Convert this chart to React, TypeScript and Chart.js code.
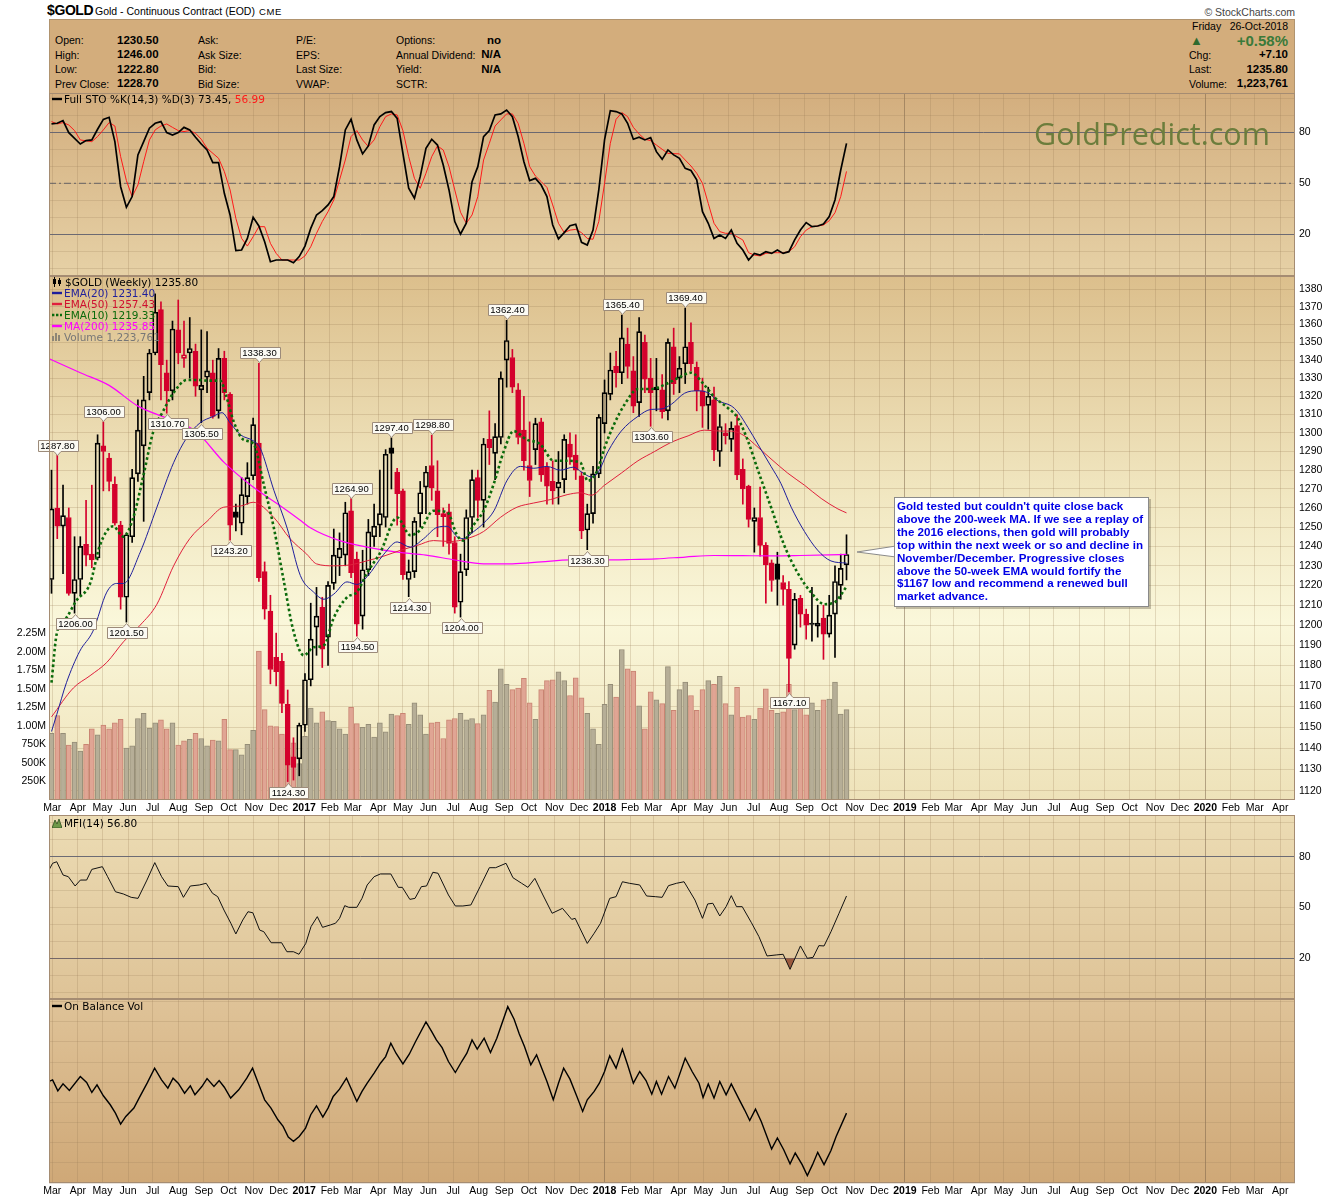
import React, { useEffect, useRef } from "react";
import { Chart, registerables } from "chart.js";

Chart.register(...registerables);

// ---------------- data (weekly bars, index 0 = week of 29-Feb-2016) ----------------
const OPENS = [1223,1260,1250.5,1255,1216,1223,1241,1236,1234,1293,
 1286.5,1272.5,1251,1214,1245,1278,1293,1322,1344,1368.5,
 1333,1323,1357,1341,1344,1345,1323.5,1330.5,1333,1312,
 1341,1321,1258,1252,1266,1277,1294.5,1227,1207,1184,
 1182,1161,1136,1135,1151,1173,1199,1209,1194,1221,
 1234,1235.5,1258.5,1233.5,1204.5,1228,1245,1251,1255,1292,
 1279,1269,1223,1227,1257,1271,1282.5,1269,1257,1258,
 1242,1211.5,1228,1255,1276,1264,1296.5,1289,1297.5,1340,
 1341.5,1323.5,1301.5,1282.5,1291,1306,1281.5,1274,1270.5,1275,
 1294,1288,1277,1248.5,1257,1278,1305,1321,1336.5,1333,
 1349,1334,1316.5,1350,1330,1325,1323.5,1312,1347.5,1330,
 1338,1350,1336,1323,1315,1318,1290,1300,1296.5,1304,
 1280.5,1271.5,1253,1255,1240.5,1231.5,1231,1221.5,1218,1190,
 1213.5,1205.5,1201,1199.5,1203.5,1195.5,1205.5,1220,1230.5];
const HIGHS = [1280,1288,1272,1260,1245,1245,1264,1272,1299,1306,
 1289,1276.5,1253,1247,1280.5,1318,1331,1346,1377.5,1373,
 1340,1362,1374,1362,1364,1349,1357,1356,1340,1346.5,
 1345,1322,1262,1276,1284,1308,1338.3,1232,1215,1196,
 1186,1168,1145,1152,1176,1211,1219,1214,1222,1249,
 1247,1263,1264.9,1237,1238,1254,1262,1280,1291,1297.4,
 1281,1270,1233,1255,1274,1282,1298.8,1285,1260,1262,
 1245,1236,1259,1280,1280,1297,1312,1305,1333.5,1362.4,
 1346,1327,1320,1306,1308,1308,1284,1285,1290,1299,
 1300,1299,1279,1262,1282,1310,1329,1344,1345,1365.4,
 1358,1342,1364,1354,1341,1341,1332,1352,1358,1342,
 1369.4,1361,1339,1330,1325,1325,1310,1305,1306,1310,
 1286,1272,1260,1271,1242,1233,1237,1225,1222,1216,
 1215,1208,1219,1210,1210,1215,1230,1236,1246];
const LOWS = [1216,1244,1226,1215,1206,1215,1230,1229,1233,1269,
 1269,1251,1208,1201.5,1242,1274,1253,1318,1343,1318,
 1310.7,1318,1338,1336,1330,1320,1305.5,1322,1308,1308,
 1318,1243.2,1248,1246,1262,1275,1222,1203,1171,1170,
 1157,1124.3,1125,1127,1148,1170,1185,1179,1180,1218,
 1225,1230,1224,1194.5,1198,1225,1240,1245,1250,1270,
 1251,1223,1214.3,1224,1250,1257,1264,1245,1240,1236,
 1206,1204,1225,1247,1255,1250,1283,1275,1294,1325,
 1322,1294,1280,1266,1283,1274,1262,1262,1262,1268,
 1283,1275,1244,1238.3,1252,1276,1300,1318,1325,1327,
 1330,1311,1309,1322,1303.6,1312,1308,1307,1321,1322,
 1327,1334,1312,1303,1302,1285,1282,1294,1290,1275,
 1262,1250,1237,1235,1211,1217,1210,1210,1167.1,1188,
 1199,1193,1192,1194,1183,1194,1184,1213,1222.8];
const CLOSES = [1259.5,1250.5,1256,1216,1223,1240,1235.5,1233,1294.5,1290,
 1274,1252,1214,1246,1276,1301.5,1318,1344,1367,1337.5,
 1323,1357.5,1344,1343,1346.5,1325.5,1326,1334,1309,1341,
 1322,1251,1255,1267,1276,1304.5,1224,1208,1178,1177,
 1161.5,1132,1131,1151,1173,1193,1204.5,1188,1220,1235.5,
 1239,1257.5,1226.5,1200.5,1228,1247.5,1250.5,1257,1288.5,1289,
 1267.5,1225.5,1227,1253,1268,1279,1270.5,1256.5,1255.5,1241.5,
 1209,1227,1255,1275,1264,1294,1292,1298,1330,1351,
 1325,1297.5,1285,1274.5,1305,1277.5,1271.5,1269,1273.5,1296.5,
 1287,1280,1248,1257,1278,1308.5,1322,1334.5,1333,1352.5,
 1336.5,1314.5,1356,1329.5,1322,1323.5,1311.5,1350,1327,1335.5,
 1347.5,1338,1323,1314.5,1320,1291,1303.5,1298.5,1302.5,1277.5,
 1270,1254,1255,1240.5,1230.5,1222.5,1223,1218,1183.5,1213,
 1205.5,1200,1200.3,1201,1195.5,1205,1222,1228.7,1235.8];
// weekly volume, millions of contracts
const VOLUMES_M = [0.90,1.14,0.90,0.74,0.78,0.66,0.75,0.96,0.88,1.01,
 0.96,1.04,1.09,0.70,0.73,1.10,1.17,0.97,1.04,1.08,
 0.96,1.04,0.74,0.80,0.82,0.90,0.83,0.73,0.81,0.80,
 1.09,0.68,0.68,0.61,0.75,0.94,2.01,1.22,1.00,0.99,
 0.89,0.61,0.77,0.49,0.86,1.24,1.04,1.19,1.07,1.06,
 0.96,0.89,1.25,1.03,0.98,1.02,0.85,1.04,0.92,1.16,
 1.14,1.17,1.02,1.31,1.15,0.89,1.04,1.05,0.83,1.08,
 1.10,1.17,1.08,1.10,1.03,1.15,1.48,1.32,1.77,1.56,
 1.49,1.51,1.64,1.31,1.09,1.49,1.61,1.62,1.73,1.61,
 1.41,1.65,1.38,1.17,0.96,0.75,1.29,1.56,1.39,2.03,
 1.77,1.74,1.27,0.96,1.46,1.35,1.30,1.80,1.21,1.49,
 1.59,1.41,1.21,1.49,1.61,1.56,1.67,1.30,1.15,1.52,
 1.12,1.14,1.09,1.24,1.50,1.21,1.17,1.19,1.56,1.22,
 1.25,1.15,1.31,1.21,1.35,1.36,1.59,1.16,1.22];

// overlays: [week, value]
const EMA20 = [[0,1148],[0.9,1156],[2.6,1171.6],[4.9,1187],[7.2,1197],[9.6,1216.6],[11.3,1221],[12.5,1221],[15.4,1237],[18.3,1260.4],[21.2,1284],[23.5,1297.5],[25.8,1305.5],[28.1,1309],[29.6,1311],[31,1305.5],[32.8,1299],[35.1,1295.6],[36.2,1292],[38.6,1269.3],[40.9,1249.5],[43.2,1225],[45.5,1216.6],[47.3,1213],[49,1215.6],[51.3,1221.8],[53,1220.5],[54.8,1224.5],[57.7,1236],[60,1242.3],[62.3,1239.6],[64.6,1244],[66.9,1249.8],[68.7,1250.4],[70.4,1245],[71.5,1244],[73.3,1247.7],[75,1252],[76.8,1258.5],[79.1,1274.7],[81.4,1282],[83.7,1281],[86,1282],[88.3,1280],[90.6,1281.6],[92,1279],[93.7,1276.4],[94.8,1278.4],[96.6,1290],[98.9,1301],[101.8,1309],[104.1,1312.8],[105.8,1313],[107.6,1315.6],[109.9,1321.7],[112.2,1323],[113.9,1322],[115.7,1317.5],[118,1314.7],[119.1,1311.5],[120.9,1302.9],[122.6,1294],[124.9,1282],[126.6,1273],[128.4,1260.4],[130.7,1247.7],[133,1238],[135.3,1232.5],[138,1231.4]];
const EMA50 = [[0,1155],[3.8,1169],[6.7,1175],[9.6,1181.5],[12.5,1191.7],[15.4,1200],[18.3,1210.5],[21.2,1230],[24,1244],[27,1253],[29.9,1260.4],[32.8,1261],[35,1263],[38.6,1255],[41.4,1244],[44.3,1236],[46,1231],[49,1230],[51.9,1230.5],[54.8,1232.6],[57.7,1235],[60.6,1238],[63.5,1240.5],[66.3,1243],[69.2,1242.5],[72.1,1244],[75,1247.7],[77.9,1255],[80.8,1260.4],[83.7,1262.6],[86.6,1264.4],[89.5,1267],[91.8,1268],[93.7,1266.7],[96,1272],[98.9,1278.4],[101.8,1285],[104.7,1290],[107.6,1295],[110.5,1298.4],[113.3,1301.5],[116.2,1301],[118,1301],[120.3,1298.4],[122,1294],[124.9,1286],[127.8,1278.4],[130.7,1272],[133.6,1265],[136.5,1259.5],[138,1257.43]];
const EMA10 = [[0,1171.6],[0.9,1195.6],[2.6,1203.7],[4.3,1212.2],[6.7,1221],[8.4,1240.5],[10.7,1250.4],[12.5,1245],[14.2,1255],[15.9,1276.4],[17.7,1301],[19.4,1312],[21.2,1322],[23.5,1329],[25.2,1329],[27,1328.6],[29.3,1328.6],[30.4,1319.4],[31.6,1306.4],[33.3,1296.4],[35.1,1294],[36.8,1273],[38.6,1249.5],[40.3,1222.6],[42,1197],[43.8,1185],[45.5,1189],[47.3,1190],[49,1203.7],[51.3,1214],[53,1216.6],[54.8,1226.5],[57.1,1237],[60,1255],[62.3,1245.8],[64,1248.5],[66.3,1258.5],[68.7,1257.7],[70.4,1245.8],[71.5,1243],[73.3,1251.2],[75,1258.5],[76.8,1273],[78.5,1290],[80.2,1301],[82.5,1296.4],[84.8,1294],[87.2,1285],[89.5,1285],[91.8,1284],[93.1,1274.3],[94.8,1280.2],[96,1292],[97.7,1305],[99.5,1315.6],[101.8,1324],[104.1,1324],[106.4,1326.3],[108.7,1330],[111,1333],[113.3,1326.3],[115.1,1319.4],[117.4,1313.6],[119.1,1308.2],[120.9,1295.6],[122.6,1280.2],[124.9,1260.4],[127.2,1240.5],[129.5,1226.5],[131.8,1216.6],[134.2,1210.5],[135.9,1211.4],[138,1219.33]];
const MA200 = [[-0.5,1341],[5,1333],[10,1326],[15,1314.6],[20,1308],[25,1301],[30,1284],[35,1271],[40,1260.5],[43,1254],[45,1249.5],[50,1243],[55,1239.5],[60,1237],[65,1235.5],[70,1233],[75,1231],[80,1231],[85,1232],[90,1233],[95,1233],[100,1233.2],[105,1233.6],[110,1234.5],[115,1235.3],[120,1235.2],[125,1235.1],[130,1235.3],[135,1235.6],[138,1235.85]];

const STO_K = [[0,84.9],[1,85.3],[2,86.9],[3,79.8],[5,73.1],[6,75.1],[7,75.5],[8,81.8],[9,87.6],[10,88.8],[11,74.5],[12,48],[13,35.9],[14,42.2],[15,66.7],[16,74.5],[17,82.4],[18,85.3],[19,86.3],[20,79.8],[21,78.4],[22,79.8],[23,82.9],[24,81.4],[25,77.1],[26,73.1],[27,69.6],[28,62.2],[29,62.2],[30,44.1],[31,31.4],[32,10.4],[33,10.8],[34,17.6],[35,30],[36,24.9],[37,15.7],[38,3.9],[39,4.9],[41,4.9],[42,3.3],[43,6.9],[44,13.1],[45,23.5],[46,31.4],[47,33.9],[48,37.3],[49,42.2],[50,59.8],[51,81.4],[52,87.6],[53,75.5],[54,67.3],[55,72],[56,84.3],[57,89.2],[58,91.6],[59,92.2],[60,88.2],[61,67.6],[62,47.1],[63,41.2],[64,53.9],[65,70.6],[66,75.9],[67,72.5],[68,60.8],[69,46.1],[70,27.5],[71,20.2],[72,26.5],[73,51],[74,59.8],[75,77.5],[76,81],[77,90.2],[78,90.8],[79,93.1],[80,89.2],[81,77.5],[82,62.7],[83,51.6],[84,52.9],[85,49],[86,42.2],[87,25.5],[88,17.3],[89,21],[90,25.1],[91,25.9],[92,15.3],[93,13.7],[94,22.5],[95,46.1],[96,75.5],[97,92.7],[98,92.2],[99,90.8],[100,85.3],[101,75.9],[102,77.1],[103,75.5],[104,76.9],[105,68.6],[106,64.1],[107,69.6],[108,66.7],[109,64.7],[110,58.8],[111,57.5],[112,52],[113,33.3],[114,26.5],[115,17.6],[116,19.6],[117,17.6],[118,22.5],[119,14.7],[120,10.8],[121,4.9],[122,8.8],[123,7.8],[124,9.8],[125,8.8],[126,10.8],[127,8.8],[128,9.8],[129,16.7],[130,22.5],[131,26.9],[132,24.5],[133,24.9],[134,26.1],[135,30.4],[136,40.2],[137,57.8],[138,73.45]];
const STO_D = [[0,86.3],[1,84.9],[2,85.7],[3,84.3],[4,81],[5,75.5],[7,74.5],[8,77.5],[9,81.4],[10,85.7],[11,83.7],[12,65.7],[13,51.6],[14,42.2],[15,49],[16,62.7],[17,75.5],[18,81.4],[19,83.7],[20,84.9],[21,82.9],[22,81],[23,80.4],[24,81],[25,79.4],[26,75.9],[27,70.6],[29,64.7],[30,56.9],[31,46.1],[32,29.4],[33,17.6],[34,13.1],[35,18.6],[36,24.5],[37,24.5],[38,14.7],[39,8.8],[40,4.9],[42,4.9],[43,4.9],[44,7.3],[45,12.7],[46,20.6],[47,27.5],[48,33.3],[49,40.2],[50,52],[51,63.7],[52,77.5],[53,81],[54,75.5],[55,71.6],[56,75.5],[57,83.3],[58,89.2],[59,90.8],[60,90.2],[61,81],[62,65.7],[63,52.9],[64,47.1],[65,55.9],[66,65.7],[67,72],[68,69.6],[69,59.8],[70,46.1],[71,33],[72,26.5],[73,31.4],[74,42.2],[75,63.7],[76,73.5],[77,83.7],[78,87.3],[79,90.8],[80,90.8],[81,85.3],[82,73.5],[83,59.8],[84,54.3],[85,51],[86,47.6],[87,37.3],[88,26.5],[89,21],[90,22.5],[91,22.9],[92,21],[93,17.6],[94,17.1],[95,27.5],[96,50],[97,73.5],[98,87.6],[99,91.6],[100,89.2],[101,82.9],[102,79],[103,75.9],[104,75.1],[105,72.5],[106,70],[107,67.6],[109,67.3],[110,63.7],[111,60.2],[112,55.9],[113,50],[114,38.2],[115,26.5],[116,21.6],[117,20.6],[118,20.6],[119,18.6],[120,16.7],[121,9.2],[122,7.8],[123,7.3],[124,8.8],[125,9.2],[126,9.2],[127,9.2],[128,9.8],[129,12.7],[130,18.6],[131,22.5],[132,24.5],[133,24.9],[134,25.5],[135,28],[136,32.7],[137,42.2],[138,56.99]];
const MFI14 = [[-0.45,72.1],[0.19,76.1],[0.91,77],[2,69.2],[2.92,68.2],[4.1,62.7],[5.01,66.2],[6.1,66.2],[7,72.5],[8.83,74.1],[9.74,68.2],[11.1,59.3],[12.47,58],[13.83,56],[15.02,55.4],[16.57,66.2],[17.93,76.5],[19.11,68.2],[20.2,62.7],[22,62.3],[22.9,56],[24.1,62.7],[25.67,63.3],[26.85,64.3],[27.94,58.4],[28.85,56.4],[29.94,48.5],[31.13,40.7],[32,34.4],[33.2,42.6],[34.1,47.5],[34.95,46.9],[36.13,36.7],[36.86,35.7],[38.13,29.2],[39.95,29.2],[40.86,23.9],[42,23.9],[42.96,22.4],[44.14,28.8],[45.05,38.7],[46.14,44.6],[47.05,38.3],[48.4,39.7],[49.3,40.7],[50,43.6],[50.9,51.1],[51.6,50.1],[53,50.1],[53.9,55.4],[54.8,63.3],[56,68.2],[57.1,69.8],[58.9,69.8],[60.2,61.9],[60.9,61.9],[62.2,54.8],[63.1,55.4],[64.2,62.3],[65.1,62.7],[66.2,70.8],[67.1,70.2],[68.9,57.4],[70.1,50.9],[71.4,50.9],[72.8,51.5],[74.4,62.3],[76,73.5],[77.1,73.5],[78.9,76.1],[80.1,67.6],[81.6,64.3],[82.7,61.9],[83.9,67.2],[85.3,57.4],[86.9,46.6],[88.7,49.5],[90.3,43],[90.9,43.6],[93,28.8],[94.2,34.8],[95.3,40.7],[96.9,55.4],[98,56.4],[99.1,65.2],[100.3,64.3],[102.1,63.3],[103.3,56.8],[104.8,56.4],[106,56],[107.1,62.9],[108.5,64.3],[109.8,65.2],[111.7,54.4],[113,43.6],[113.9,52.1],[114.8,52.5],[116,45],[117.1,50.5],[118,57],[118.9,50.5],[119.9,50.5],[121.5,41],[122.8,32.8],[124.2,21.4],[125.8,22],[127,22.4],[128.2,13.5],[130,27.3],[131.2,20],[132.2,20.6],[133.2,27.5],[134.1,27.3],[135.3,35.7],[136.7,46.6],[138,56.8]];
// on balance volume, millions (relative)
const OBV_M = [[-0.45,10.07],[0.19,10.23],[1.1,9.14],[2,9.83],[3.1,9.17],[5,10.56],[6.1,9.97],[7,8.98],[7.9,9.74],[9,8.65],[10.2,7.76],[11.1,6.93],[12,5.84],[12.9,6.6],[14.3,7.43],[15.2,8.42],[16.6,9.9],[17.9,11.39],[19.1,10.23],[20.2,9.41],[21.1,10.4],[22,9.9],[23.1,8.91],[24.1,9.64],[24.9,8.75],[26.1,9.57],[27,10.36],[28.2,9.57],[29.1,10.16],[30,9.5],[31.1,8.42],[32.5,9.24],[33.9,10.4],[34.9,11.39],[36,9.74],[37,8.25],[38.1,7.43],[39.3,6.27],[40.2,5.61],[41.1,4.55],[42,4.13],[43,4.62],[44.1,5.45],[45,6.77],[46,7.66],[47.1,6.53],[48,7.43],[48.9,8.58],[50,9.31],[51.2,10.4],[52.1,9.24],[53,8.09],[53.9,9.08],[54.8,9.9],[56,10.89],[57.1,11.88],[58,12.54],[58.9,13.86],[59.8,12.87],[61,11.81],[62.1,12.77],[63.2,14.03],[65,15.97],[66,15.02],[66.8,14.19],[67.8,13.43],[68.9,12.05],[70.1,10.96],[71.2,12.05],[72.1,12.87],[73,14.19],[73.9,13.27],[75.1,14.36],[76.2,12.94],[77.3,14.36],[79.2,17.49],[80.3,16.24],[81.2,14.78],[82.1,13.53],[83.2,11.72],[84.2,12.71],[85.1,11.39],[86,10.07],[87.1,8.25],[88,9.9],[88.9,11.39],[90,10.3],[91.2,8.58],[92.2,7.1],[93,8.25],[94.2,9.08],[95.1,9.9],[96,11.06],[96.9,12.61],[98,11.39],[99.1,13.27],[100,11.72],[101,9.9],[102.1,11.06],[103.2,10.16],[104.2,8.81],[105,10.07],[105.9,8.81],[107.1,10.56],[108.2,9.41],[110,12.38],[111.2,11.06],[112.4,9.9],[113.1,8.48],[114,9.83],[115,8.42],[116,10.07],[117.1,8.75],[118,9.83],[119.4,8.25],[120.3,7.26],[121.2,6.2],[122.2,7.33],[123.2,6.11],[125,3.37],[126,4.46],[127.1,3.3],[128.2,1.91],[129.1,2.97],[130.3,1.82],[131.2,0.73],[132.1,1.82],[133,3.04],[134.1,1.82],[135.3,3.23],[136.2,4.62],[138,6.93]];

const PEAKS = [
  { i: 1, v: 1287.8, up: true }, { i: 9, v: 1306.0, up: true }, { i: 36, v: 1338.3, up: true },
  { i: 52, v: 1264.9, up: true }, { i: 59, v: 1297.4, up: true }, { i: 66, v: 1298.8, up: true },
  { i: 79, v: 1362.4, up: true }, { i: 99, v: 1365.4, up: true }, { i: 110, v: 1369.4, up: true },
  { i: 4, v: 1206.0, up: false }, { i: 13, v: 1201.5, up: false }, { i: 20, v: 1310.7, up: false },
  { i: 26, v: 1305.5, up: false }, { i: 31, v: 1243.2, up: false }, { i: 41, v: 1124.3, up: false },
  { i: 53, v: 1194.5, up: false }, { i: 62, v: 1214.3, up: false }, { i: 71, v: 1204.0, up: false },
  { i: 93, v: 1238.3, up: false }, { i: 104, v: 1303.6, up: false }, { i: 128, v: 1167.1, up: false },
];

const PRICE_TICKS = [1120,1130,1140,1150,1160,1170,1180,1190,1200,1210,1220,1230,1240,1250,1260,1270,1280,1290,1300,1310,1320,1330,1340,1350,1360,1370,1380];
const VOLUME_TICKS = [0.25,0.5,0.75,1.0,1.25,1.5,1.75,2.0,2.25];
const OSC_GRID = [0,10,20,30,40,50,60,70,80,90,100];
const OSC_LABELS = [80,50,20];
const OBV_GRID = [0,2,4,6,8,10,12,14,16,18];
const STO_MID = 50;
const MONTH_NAMES = ["Jan","Feb","Mar","Apr","May","Jun","Jul","Aug","Sep","Oct","Nov","Dec"];

// ---------------- geometry / style ----------------
const X_MIN = -0.434;
const X_MAX = 215.85;
const PRICE_MIN = 1115.7, PRICE_MAX = 1387.8, VOL_MAX = 7.07;
const AXIS_FONT = '"Liberation Sans", Arial, Helvetica, sans-serif';
const LEG_FONT = '"DejaVu Sans", Verdana, sans-serif';
const RED = "#d4002c";
const BLACK = "#000000";

const FIRST_WEEK = Date.UTC(2016, 1, 29);
const WEEK_MS = 7 * 86400000;
const monthTicks = (() => {
  const out = [];
  let y = 2016, m = 2;
  for (;;) {
    const v = (Date.UTC(y, m, 1) - FIRST_WEEK) / WEEK_MS;
    if (v > X_MAX) break;
    out.push({ value: v, label: m === 0 ? String(y) : MONTH_NAMES[m], major: m === 0 });
    m++;
    if (m > 11) { m = 0; y++; }
  }
  return out;
})();

const candleColor = CLOSES.map((c, i) => (i > 0 && c < CLOSES[i - 1] ? RED : BLACK));
const bodyFill = CLOSES.map((c, i) => (c < OPENS[i] ? candleColor[i] : "rgba(0,0,0,0)"));
const pts = (arr) => arr.map(([x, y]) => ({ x, y }));

function zeroPad(s) { s.paddingTop = 0; s.paddingBottom = 0; s.paddingLeft = 0; s.paddingRight = 0; }

function xAxis(labels, h) {
  return {
    type: "linear", min: X_MIN, max: X_MAX, offset: false,
    afterBuildTicks: (s) => { s.ticks = monthTicks.map((t) => ({ value: t.value, major: t.major })); },
    afterFit: (s) => { s.height = labels ? h : 0; zeroPad(s); },
    ticks: {
      display: labels, autoSkip: false, maxRotation: 0, minRotation: 0, padding: 2, color: "#000",
      callback: (_v, i) => (monthTicks[i] ? monthTicks[i].label : ""),
      font: (ctx) => ({ family: AXIS_FONT, size: 10.5, weight: ctx.tick && ctx.tick.major ? "bold" : "normal" }),
    },
    grid: {
      offset: false, drawTicks: false, lineWidth: 1,
      color: (ctx) => (ctx.tick && ctx.tick.major ? "rgba(120,96,70,0.5)" : "rgba(150,122,85,0.24)"),
    },
    border: { display: false },
  };
}

function oscAxis(min, max, dark, showLabels, grid) {
  return {
    type: "linear", position: "right", min, max,
    afterBuildTicks: (s) => { s.ticks = grid.map((v) => ({ value: v })); },
    afterFit: (s) => { s.width = 45; zeroPad(s); },
    ticks: {
      display: showLabels, autoSkip: false, padding: 4, color: "#000", font: { family: AXIS_FONT, size: 10.5 },
      callback: (v) => (OSC_LABELS.includes(v) ? String(v) : ""),
    },
    grid: {
      drawTicks: false,
      color: (ctx) => {
        const v = ctx.tick ? ctx.tick.value : -1;
        if (dark.includes(v)) return "rgba(95,95,110,0.9)";
        return "rgba(150,122,85,0.22)";
      },
    },
    border: { display: false },
  };
}

const panelPlugin = (stops) => ({
  id: "panelBg",
  beforeDraw(chart) {
    const { ctx, chartArea: a } = chart;
    const g = ctx.createLinearGradient(0, a.top, 0, a.bottom);
    stops.forEach(([o, c]) => g.addColorStop(o, c));
    ctx.save();
    ctx.fillStyle = g;
    ctx.fillRect(a.left, a.top, a.right - a.left, a.bottom - a.top);
    ctx.restore();
  },
  afterDraw(chart) {
    const { ctx, chartArea: a } = chart;
    ctx.save();
    ctx.strokeStyle = "#a58c72";
    ctx.lineWidth = 1;
    ctx.strokeRect(Math.round(a.left) + 0.5, Math.round(a.top) + 0.5, Math.round(a.right - a.left) - 1, Math.round(a.bottom - a.top) - 1);
    ctx.restore();
  },
});

const peakPlugin = {
  id: "peaks",
  afterDatasetsDraw(chart) {
    const { ctx } = chart;
    const xs = chart.scales.x, ys = chart.scales.y;
    ctx.save();
    ctx.font = `9.5px ${AXIS_FONT}`;
    ctx.textAlign = "center";
    ctx.textBaseline = "middle";
    PEAKS.forEach((p) => {
      const x = Math.round(xs.getPixelForValue(p.i)) + 0.5;
      const y = ys.getPixelForValue(p.v);
      const text = p.v.toFixed(2);
      const w = Math.ceil(ctx.measureText(text).width) + 5;
      const h = 11, ah = 4;
      const tip = p.up ? y - 1 : y + 1;
      const top = p.up ? tip - ah - h : tip + ah;
      const bx = Math.round(x - w / 2) + 0.5, by = Math.round(top) + 0.5;
      ctx.beginPath();
      if (p.up) {
        ctx.moveTo(bx, by); ctx.lineTo(bx + w, by); ctx.lineTo(bx + w, by + h);
        ctx.lineTo(x + 3.5, by + h); ctx.lineTo(x, by + h + ah); ctx.lineTo(x - 3.5, by + h);
        ctx.lineTo(bx, by + h); ctx.closePath();
      } else {
        ctx.moveTo(bx, by); ctx.lineTo(x - 3.5, by); ctx.lineTo(x, by - ah); ctx.lineTo(x + 3.5, by);
        ctx.lineTo(bx + w, by); ctx.lineTo(bx + w, by + h); ctx.lineTo(bx, by + h); ctx.closePath();
      }
      ctx.fillStyle = "#fbfaf3";
      ctx.fill();
      ctx.strokeStyle = "#9c8b7a";
      ctx.lineWidth = 1;
      ctx.stroke();
      ctx.fillStyle = "#000";
      ctx.fillText(text, x, by + h / 2 + 0.5);
    });
    ctx.restore();
  },
};

const baseOptions = (scales) => ({
  animation: false, responsive: false, maintainAspectRatio: false, events: [],
  layout: { padding: 0 },
  plugins: { legend: { display: false }, tooltip: { enabled: false } },
  scales,
});

const lineDs = (data, color, width, extra) => Object.assign({
  type: "line", data: pts(data), borderColor: color, borderWidth: width, pointRadius: 0,
  cubicInterpolationMode: "monotone", fill: false,
}, extra || {});

function buildSto() {
  return {
    type: "line",
    data: {
      datasets: [
        lineDs([[X_MIN, STO_MID], [X_MAX, STO_MID]], "rgba(85,85,95,0.85)", 1, { borderDash: [7, 3, 2, 3], order: 3, cubicInterpolationMode: "default", tension: 0 }),
        lineDs(STO_D, "#ff1a1a", 1, { order: 2, cubicInterpolationMode: "default", tension: 0 }),
        lineDs(STO_K, "#000", 1.7, { order: 1, cubicInterpolationMode: "default", tension: 0 }),
      ],
    },
    options: Object.assign(baseOptions({ x: xAxis(false, 0), y: oscAxis(-4.5, 103.1, [80, 20], true, OSC_GRID) }), { layout: { padding: { left: 49 } } }),
    plugins: [panelPlugin([[0, "#d3ae7e"], [1, "#e6d1a6"]])],
  };
}

function buildPrice() {
  const volColor = candleColor.map((c) => (c === RED ? "#e0a594" : "#b6ae97"));
  const volBorder = candleColor.map((c) => (c === RED ? "#c98472" : "#958d77"));
  return {
    type: "bar",
    data: {
      datasets: [
        { type: "bar", yAxisID: "vol", data: VOLUMES_M.map((v, i) => ({ x: i, y: v })), backgroundColor: volColor, borderColor: volBorder, borderWidth: 1, barThickness: 5, grouped: false, order: 10 },
        { type: "bar", yAxisID: "y", data: HIGHS.map((h, i) => ({ x: i, y: [Math.max(OPENS[i], CLOSES[i]), h] })), backgroundColor: candleColor, borderWidth: 0, barThickness: 1, grouped: false, order: 6 },
        { type: "bar", yAxisID: "y", data: LOWS.map((l, i) => ({ x: i, y: [l, Math.min(OPENS[i], CLOSES[i])] })), backgroundColor: candleColor, borderWidth: 0, barThickness: 1, grouped: false, order: 6 },
        { type: "bar", yAxisID: "y", data: OPENS.map((o, i) => ({ x: i, y: [o, CLOSES[i]] })), backgroundColor: bodyFill, borderColor: candleColor, borderWidth: 1, borderSkipped: false, barThickness: 5, minBarLength: 1, grouped: false, order: 5 },
        lineDs(MA200, "#ff00ff", 1.2, { yAxisID: "y", order: 4 }),
        lineDs(EMA50, "#e0203c", 1, { yAxisID: "y", order: 3 }),
        lineDs(EMA20, "#1f1f9c", 1, { yAxisID: "y", order: 2 }),
        lineDs(EMA10, "#0b6a0b", 2.6, { yAxisID: "y", order: 1, borderDash: [2.6, 2.6] }),
      ],
    },
    options: baseOptions({
      x: xAxis(true, 15),
      y: {
        type: "logarithmic", position: "right", min: PRICE_MIN, max: PRICE_MAX,
        afterBuildTicks: (s) => { s.ticks = PRICE_TICKS.map((v) => ({ value: v })); },
        afterFit: (s) => { s.width = 45; zeroPad(s); },
        ticks: { autoSkip: false, padding: 4, color: "#000", font: { family: AXIS_FONT, size: 10.5 }, callback: (v) => String(v) },
        grid: { drawTicks: false, color: "rgba(150,122,85,0.24)" },
        border: { display: false },
      },
      vol: {
        type: "linear", position: "left", min: 0, max: VOL_MAX,
        afterBuildTicks: (s) => { s.ticks = VOLUME_TICKS.map((v) => ({ value: v })); },
        afterFit: (s) => { s.width = 49; zeroPad(s); },
        ticks: {
          autoSkip: false, padding: 3, color: "#000", font: { family: AXIS_FONT, size: 10.5 },
          callback: (v) => (v < 1 ? `${Math.round(v * 1000)}K` : `${Number(v).toFixed(2)}M`),
        },
        grid: { drawOnChartArea: false, drawTicks: false },
        border: { display: false },
      },
    }),
    plugins: [panelPlugin([[0, "#dcbf8c"], [0.42, "#f1e7c1"], [0.66, "#faf7da"], [1, "#eee2b9"]]), peakPlugin],
  };
}

function buildMfi() {
  return {
    type: "line",
    data: {
      datasets: [
        lineDs(MFI14, "#111", 1, { cubicInterpolationMode: "default", tension: 0, fill: { target: { value: 20 }, above: "rgba(0,0,0,0)", below: "#9a5a3e" } }),
      ],
    },
    options: Object.assign(baseOptions({ x: xAxis(false, 0), y: oscAxis(-4, 104.6, [80, 20], true, OSC_GRID) }), { layout: { padding: { left: 49 } } }),
    plugins: [panelPlugin([[0, "#ecdcb4"], [1, "#dec397"]])],
  };
}

function buildObv() {
  return {
    type: "line",
    data: { datasets: [lineDs(OBV_M, "#000", 1.4, { cubicInterpolationMode: "default", tension: 0 })] },
    options: Object.assign(baseOptions({
      x: xAxis(true, 16),
      y: {
        type: "linear", position: "right", min: 0, max: 18.25,
        afterBuildTicks: (s) => { s.ticks = OBV_GRID.map((v) => ({ value: v })); },
        afterFit: (s) => { s.width = 45; zeroPad(s); },
        ticks: { display: false },
        grid: { drawTicks: false, color: "rgba(150,122,85,0.22)" },
        border: { display: false },
      },
    }), { layout: { padding: { left: 49 } } }),
    plugins: [panelPlugin([[0, "#dfc398"], [1, "#cfa877"]])],
  };
}

function ChartPanel({ top, height, build }) {
  const ref = useRef(null);
  useEffect(() => {
    const chart = new Chart(ref.current, build());
    return () => chart.destroy();
  }, []);
  return <canvas ref={ref} width={1340} height={height} style={{ position: "absolute", left: 0, top, width: 1340, height, display: "block" }} />;
}

function T({ x, y, children, size = 10.5, bold = false, color = "#000", right = false, family = AXIS_FONT, spacing = 0 }) {
  const pos = right ? { right: 1340 - x } : { left: x };
  return (
    <div style={{ position: "absolute", top: y - size * 0.6, ...pos, fontSize: size, fontWeight: bold ? 700 : 400, color, fontFamily: family, lineHeight: `${size * 1.2}px`, whiteSpace: "pre", letterSpacing: spacing }}>
      {children}
    </div>
  );
}

const LineIcon = ({ color, dashed }) => (
  <svg width="10" height="6" style={{ display: "block" }}>
    <line x1="0" y1="3" x2="10" y2="3" stroke={color} strokeWidth="2.4" strokeDasharray={dashed ? "2.4 1.6" : undefined} />
  </svg>
);
const CandleIcon = () => (
  <svg width="11" height="10" style={{ display: "block" }}>
    <line x1="2.5" y1="0" x2="2.5" y2="10" stroke="#000" strokeWidth="1" />
    <rect x="1" y="2" width="3" height="5" fill="#000" />
    <line x1="7.5" y1="1" x2="7.5" y2="9" stroke="#000" strokeWidth="1" />
    <rect x="6" y="3" width="3" height="4" fill="#000" />
  </svg>
);
const VolIcon = () => (
  <svg width="10" height="9" style={{ display: "block" }}>
    <rect x="0" y="4" width="2" height="5" fill="#8d8676" />
    <rect x="3" y="1" width="2" height="8" fill="#8d8676" />
    <rect x="6" y="3" width="2" height="6" fill="#8d8676" />
  </svg>
);
const MfiIcon = () => (
  <svg width="10" height="10" style={{ display: "block" }}>
    <polygon points="0,10 3,2 5,6 7,1 10,10" fill="#6f9a4a" stroke="#2d4d1d" strokeWidth="0.8" />
  </svg>
);

function Leg({ y, icon, children, color = "#000" }) {
  return (
    <div style={{ position: "absolute", left: 52, top: y - 6, height: 12, display: "flex", alignItems: "center", fontFamily: LEG_FONT, fontSize: 10.5, lineHeight: "12px", color, whiteSpace: "pre" }}>
      {icon}
      <span style={{ marginLeft: 2 }}>{children}</span>
    </div>
  );
}

const ROWS_Y = [40.5, 55, 69.5, 84];

export default function App() {
  return (
    <div style={{ position: "absolute", left: 0, top: 0, width: 1340, height: 1200, background: "#fff", overflow: "hidden", fontFamily: AXIS_FONT }}>
      {/* title line */}
      <T x={47} y={10.5} size={14} bold spacing={-0.4}>$GOLD</T>
      <T x={95} y={11.5} size={10.5}>Gold - Continuous Contract (EOD)</T>
      <T x={259} y={11.5} size={9.5} spacing={0.6}>CME</T>
      <T x={1295} y={12} size={10.5} right color="#444">© StockCharts.com</T>

      {/* header box */}
      <div style={{ position: "absolute", left: 49, top: 19, width: 1246, height: 75, background: "#d3ad7c", border: "1px solid #b1946f", boxSizing: "border-box" }} />
      {["Open:", "High:", "Low:", "Prev Close:"].map((s, i) => <T key={s} x={55} y={ROWS_Y[i]}>{s}</T>)}
      {["1230.50", "1246.00", "1222.80", "1228.70"].map((s, i) => <T key={s} x={117} y={ROWS_Y[i]} size={11.5} bold>{s}</T>)}
      {["Ask:", "Ask Size:", "Bid:", "Bid Size:"].map((s, i) => <T key={s} x={198} y={ROWS_Y[i]}>{s}</T>)}
      {["P/E:", "EPS:", "Last Size:", "VWAP:"].map((s, i) => <T key={s} x={296} y={ROWS_Y[i]}>{s}</T>)}
      {["Options:", "Annual Dividend:", "Yield:", "SCTR:"].map((s, i) => <T key={s} x={396} y={ROWS_Y[i]}>{s}</T>)}
      {["no", "N/A", "N/A"].map((s, i) => <T key={i} x={501} y={ROWS_Y[i]} size={11.5} bold right>{s}</T>)}
      <T x={1192} y={26}>Friday</T>
      <T x={1288} y={26} right>26-Oct-2018</T>
      <T x={1190} y={41} size={13} color="#2e6a2e">▲</T>
      <T x={1288} y={41} size={15} bold right color="#3a7a3a">+0.58%</T>
      <T x={1189} y={55}>Chg:</T>
      <T x={1288} y={55} size={11.5} bold right>+7.10</T>
      <T x={1189} y={69.5}>Last:</T>
      <T x={1288} y={69.5} size={11.5} bold right>1235.80</T>
      <T x={1189} y={84}>Volume:</T>
      <T x={1288} y={84} size={11.5} bold right>1,223,761</T>

      <ChartPanel top={93} height={183} build={buildSto} />
      <ChartPanel top={276} height={539} build={buildPrice} />
      <ChartPanel top={815} height={184} build={buildMfi} />
      <ChartPanel top={999} height={200} build={buildObv} />

      {/* panel legends */}
      <Leg y={98.5} icon={<LineIcon color="#000" />}>Full STO %K(14,3) %D(3) 73.45, <span style={{ color: "#ff1a1a" }}>56.99</span></Leg>
      <Leg y={282} icon={<CandleIcon />}>$GOLD (Weekly) 1235.80</Leg>
      <Leg y={293} icon={<LineIcon color="#1f1f9c" />} color="#1f1f9c">EMA(20) 1231.40</Leg>
      <Leg y={304} icon={<LineIcon color="#e0203c" />} color="#d01030">EMA(50) 1257.43</Leg>
      <Leg y={315} icon={<LineIcon color="#0b6a0b" dashed />} color="#0b6a0b">EMA(10) 1219.33</Leg>
      <Leg y={325.5} icon={<LineIcon color="#ff00ff" />} color="#ff00ff">MA(200) 1235.85</Leg>
      <Leg y={336.5} icon={<VolIcon />} color="#777">Volume 1,223,761</Leg>
      <Leg y={822.5} icon={<MfiIcon />}>MFI(14) 56.80</Leg>
      <Leg y={1006} icon={<LineIcon color="#000" />}>On Balance Vol</Leg>

      {/* watermark */}
      <div style={{ position: "absolute", left: 1034, top: 112, fontFamily: '"Open Sans", sans-serif', fontSize: 30.5, color: "#6c7d3c", whiteSpace: "pre", lineHeight: "42px" }}>GoldPredict.com</div>

      {/* annotation */}
      <svg width="60" height="30" style={{ position: "absolute", left: 850, top: 538 }}>
        <polygon points="7,14 46,8 46,19" fill="#fff" />
        <line x1="7" y1="14" x2="46" y2="8" stroke="#8a8a8a" strokeWidth="1" />
        <line x1="7" y1="14" x2="46" y2="19" stroke="#8a8a8a" strokeWidth="1" />
      </svg>
      <div style={{ position: "absolute", left: 894, top: 497, width: 255, height: 110, background: "#fff", border: "1px solid #8a8a8a", boxSizing: "border-box", boxShadow: "2px 2px 0 rgba(90,80,60,0.35)", padding: "2px 0 0 2px", fontFamily: AXIS_FONT, fontWeight: 700, fontSize: 11.6, lineHeight: "12.9px", color: "#0000e6", whiteSpace: "pre", overflow: "hidden" }}>
        {"Gold tested but couldn't quite close back\nabove the 200-week MA. If we see a replay of\nthe 2016 elections, then gold will probably\ntop within the next week or so and decline in\nNovember/December. Progressive closes\nabove the 50-week EMA would fortify the\n$1167 low and recommend a renewed bull\nmarket advance."}
      </div>
    </div>
  );
}
